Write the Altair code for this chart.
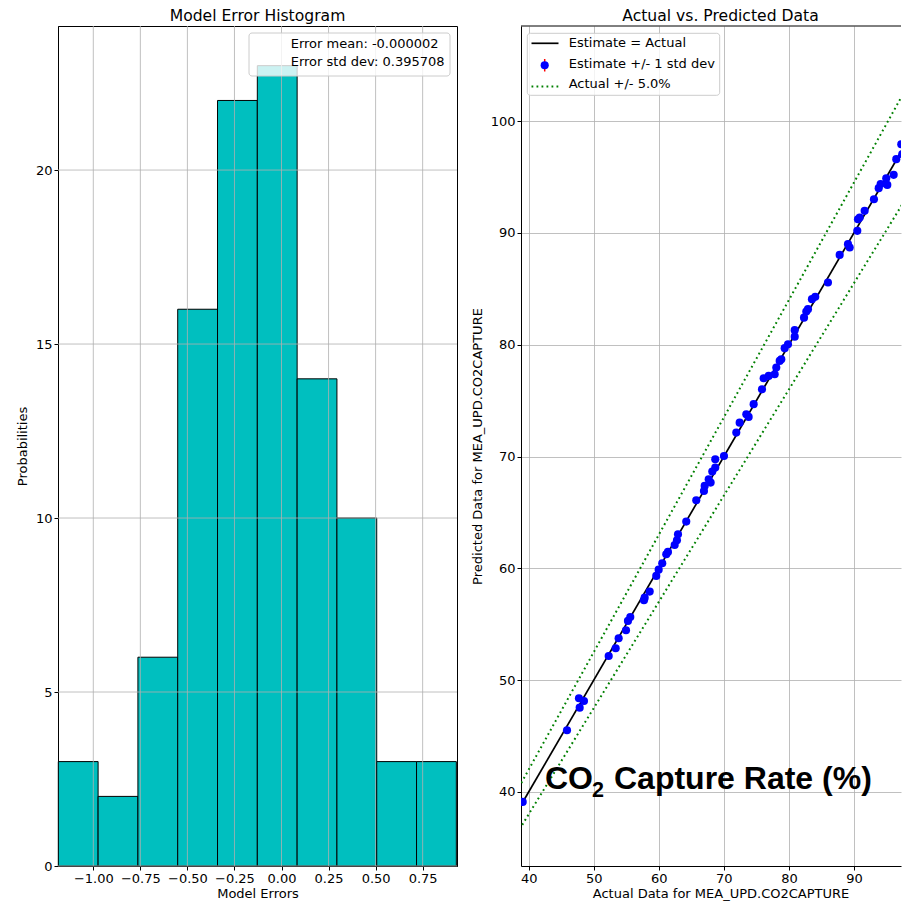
import altair as alt
import pandas as pd

FONT = "DejaVu Sans"

# ---------------- data ----------------
bin_edges = [-1.186, -0.9745, -0.763, -0.5515, -0.340, -0.1285, 0.083, 0.2945, 0.506, 0.7175, 0.929]
bin_counts = [3, 2, 6, 16, 22, 23, 14, 10, 3, 3]
hist_xticks = [-1.0, -0.75, -0.5, -0.25, 0.0, 0.25, 0.5, 0.75]
hist_yticks = [0, 5, 10, 15, 20]

actual = [39.08, 45.89, 47.73, 48.50, 47.84, 52.30, 53.37, 53.83, 54.96, 55.26, 55.62, 57.72, 57.83,
          58.60, 59.61, 59.98, 60.53, 61.15, 61.41, 62.44, 62.79, 62.95, 64.22, 65.76, 66.94, 67.05,
          67.97, 67.67, 68.22, 68.68, 68.68, 70.02, 71.91, 72.43, 73.45, 73.81, 74.58, 75.86, 76.12,
          76.89, 77.81, 78.06, 78.58, 78.83, 79.35, 79.86, 80.89, 80.89, 82.32, 82.67, 82.93, 83.54,
          84.05, 86.00, 87.80, 89.08, 89.34, 90.51, 90.61, 90.88, 91.64, 93.07, 93.80, 94.10, 94.96,
          95.12, 96.10, 96.50, 97.42, 97.27, 98.56, 98.95, 99.6, 100.4]
predicted = [39.11, 45.52, 48.38, 48.14, 47.54, 52.16, 52.85, 53.75, 54.46, 55.30, 55.65, 57.15, 57.38,
             57.92, 59.32, 59.88, 60.46, 61.26, 61.47, 62.09, 62.51, 63.05, 64.18, 66.09, 66.92, 67.37,
             67.67, 67.97, 68.65, 69.01, 69.76, 70.05, 72.14, 73.03, 73.78, 73.54, 74.68, 76.02, 77.00,
             77.21, 77.36, 77.95, 78.55, 78.70, 79.69, 80.04, 80.72, 81.30, 82.42, 82.96, 83.18, 84.07,
             84.28, 85.56, 88.03, 88.99, 88.69, 90.18, 91.22, 91.37, 91.97, 93.01, 94.00, 94.36, 94.89,
             94.29, 95.19, 96.59, 97.04, 97.93, 98.83, 100.0, 99.4, 100.9]
band_x = [37.0, 104.0]
band_pct = 5.0
scatter_xticks = [40, 50, 60, 70, 80, 90]
scatter_yticks = [40, 50, 60, 70, 80, 90, 100]

hist_df = pd.DataFrame({"lo": bin_edges[:-1], "hi": bin_edges[1:], "count": bin_counts})
pts_df = pd.DataFrame({"actual": actual, "predicted": predicted})
ident_df = pd.DataFrame({"actual": [min(actual), max(actual)]})
ident_df["predicted"] = ident_df["actual"]
band_df = pd.DataFrame({"x": band_x})
band_df["upper"] = band_df["x"] * (1 + band_pct / 100)
band_df["lower"] = band_df["x"] * (1 - band_pct / 100)
one = pd.DataFrame({"k": [0]})

LW, LH = 399, 840
RW, RH = 380, 840
FS = 13
TFS = 15.6

def title_mark(txt):
    return alt.Chart(one).mark_text(text=txt, align="center", baseline="top", font=FONT,
                                    fontSize=TFS, color="black").encode(x=alt.value(199.5), y=alt.value(-17))

# ---------------- left: histogram ----------------
hx = alt.Scale(domain=[-1.1876, 0.9325], nice=False, zero=False)
hy = alt.Scale(domain=[0, 24.14], nice=False, zero=False)
hxaxis = alt.Axis(title="Model Errors", values=hist_xticks, format=".2f", grid=False, titlePadding=2)
hyaxis = alt.Axis(title="Probabilities", values=hist_yticks, grid=False)

bars = alt.Chart(hist_df).mark_bar(color="#00BFBF", stroke="black", strokeWidth=1, opacity=1).encode(
    x=alt.X("lo:Q", scale=hx, axis=hxaxis),
    x2="hi:Q",
    y=alt.Y("count:Q", scale=hy, axis=hyaxis),
    y2=alt.datum(0),
)
gx = alt.Chart(pd.DataFrame({"v": hist_xticks})).mark_rule(color="#b0b0b0", strokeWidth=0.8).encode(
    x=alt.X("v:Q", scale=hx, axis=hxaxis))
gy = alt.Chart(pd.DataFrame({"v": hist_yticks})).mark_rule(color="#b0b0b0", strokeWidth=0.8).encode(
    y=alt.Y("v:Q", scale=hy, axis=hyaxis))

lbox = alt.Chart(one).mark_rect(fill="white", fillOpacity=0.8, stroke="#cccccc", strokeWidth=1,
                                 cornerRadius=3).encode(
    x=alt.value(191), x2=alt.value(392), y=alt.value(7), y2=alt.value(50))
lt1 = alt.Chart(one).mark_text(text="Error mean: -0.000002", align="left", baseline="middle",
                               font=FONT, fontSize=FS, color="black").encode(x=alt.value(232.7), y=alt.value(18.3))
lt2 = alt.Chart(one).mark_text(text="Error std dev: 0.395708", align="left", baseline="middle",
                               font=FONT, fontSize=FS, color="black").encode(x=alt.value(232.7), y=alt.value(36.3))

left = alt.layer(bars, gx, gy, lbox, lt1, lt2, title_mark("Model Error Histogram")).properties(
    width=LW, height=LH, view=alt.ViewBackground(stroke="black", strokeWidth=1))

# ---------------- right: actual vs predicted ----------------
sx = alt.Scale(domain=[38.82, 38.82 + RW / 6.506], nice=False, zero=False)
sy = alt.Scale(domain=[33.38, 108.5], nice=False, zero=False)
xaxis = alt.Axis(title="Actual Data for MEA_UPD.CO2CAPTURE", values=scatter_xticks, titleX=199.5, titlePadding=2)
yaxis = alt.Axis(title="Predicted Data for MEA_UPD.CO2CAPTURE", values=scatter_yticks)

up = alt.Chart(band_df).mark_line(color="#008000", strokeWidth=2, strokeDash=[1.8, 3.2], clip=True).encode(
    x=alt.X("x:Q", scale=sx, axis=xaxis), y=alt.Y("upper:Q", scale=sy, axis=yaxis))
lo = alt.Chart(band_df).mark_line(color="#008000", strokeWidth=2, strokeDash=[1.8, 3.2], clip=True).encode(
    x=alt.X("x:Q", scale=sx, axis=xaxis), y=alt.Y("lower:Q", scale=sy, axis=yaxis))
ident = alt.Chart(ident_df).mark_line(color="black", strokeWidth=1.7, clip=True).encode(
    x=alt.X("actual:Q", scale=sx, axis=xaxis), y=alt.Y("predicted:Q", scale=sy, axis=yaxis))
pts = alt.Chart(pts_df).mark_circle(color="#0000ff", size=66, opacity=1, clip=True).encode(
    x=alt.X("actual:Q", scale=sx, axis=xaxis), y=alt.Y("predicted:Q", scale=sy, axis=yaxis))
top_border = alt.Chart(one).mark_rule(color="black", strokeWidth=1).encode(
    x=alt.value(0), x2=alt.value(RW), y=alt.value(0))

rbox = alt.Chart(one).mark_rect(fill="white", fillOpacity=0.8, stroke="#cccccc", strokeWidth=1,
                                 cornerRadius=3).encode(
    x=alt.value(6.3), x2=alt.value(198.7), y=alt.value(7.3), y2=alt.value(69.3))
r_line = alt.Chart(one).mark_rule(color="black", strokeWidth=1.7).encode(
    x=alt.value(10.5), x2=alt.value(37.5), y=alt.value(17.3))
r_err = alt.Chart(one).mark_rule(color="red", strokeWidth=1.5).encode(
    x=alt.value(23.7), y=alt.value(33), y2=alt.value(45.5))
r_dot = alt.Chart(one).mark_circle(color="#0000ff", size=66, opacity=1).encode(
    x=alt.value(23.7), y=alt.value(39.3))
r_dotted = alt.Chart(one).mark_rule(color="#008000", strokeWidth=2, strokeDash=[1.8, 3.2]).encode(
    x=alt.value(10.5), x2=alt.value(37.5), y=alt.value(60.5))
legend_labels = ["Estimate = Actual", "Estimate +/- 1 std dev", "Actual +/- 5.0%"]
legend_ys = [17.3, 37.8, 58.3]
r_texts = [alt.Chart(one).mark_text(text=t, align="left", baseline="middle", font=FONT, fontSize=FS,
                                    color="black").encode(x=alt.value(47.7), y=alt.value(yv))
           for t, yv in zip(legend_labels, legend_ys)]

big_kw = dict(font="Liberation Sans", fontWeight="bold", color="black", align="left", baseline="alphabetic")
co = alt.Chart(one).mark_text(text="CO", fontSize=32, **big_kw).encode(x=alt.value(24), y=alt.value(763))
sub2 = alt.Chart(one).mark_text(text="2", fontSize=21.5, **big_kw).encode(x=alt.value(71), y=alt.value(771))
rest = alt.Chart(one).mark_text(text="Capture Rate (%)", fontSize=32, **big_kw).encode(
    x=alt.value(93), y=alt.value(763))

right = alt.layer(up, lo, ident, pts, top_border, rbox, r_line, r_err, r_dot, r_dotted, *r_texts,
                  co, sub2, rest, title_mark("Actual vs. Predicted Data")).properties(
    width=RW, height=RH, view=alt.ViewBackground(stroke="transparent", strokeWidth=0))

chart = alt.hconcat(left, right, spacing=13).properties(
    padding={"left": 7, "top": 0, "right": 0, "bottom": 0}
).configure_axis(
    labelFont=FONT, labelFontSize=FS, labelColor="black",
    titleFont=FONT, titleFontSize=FS, titleFontWeight="normal", titleColor="black",
    tickColor="black", tickSize=4, domainColor="black", domainWidth=1,
    gridColor="#b0b0b0", gridWidth=0.8, labelPadding=2, titlePadding=6,
)

chart.save("out.html", embed_options={"renderer": "svg", "actions": False})
